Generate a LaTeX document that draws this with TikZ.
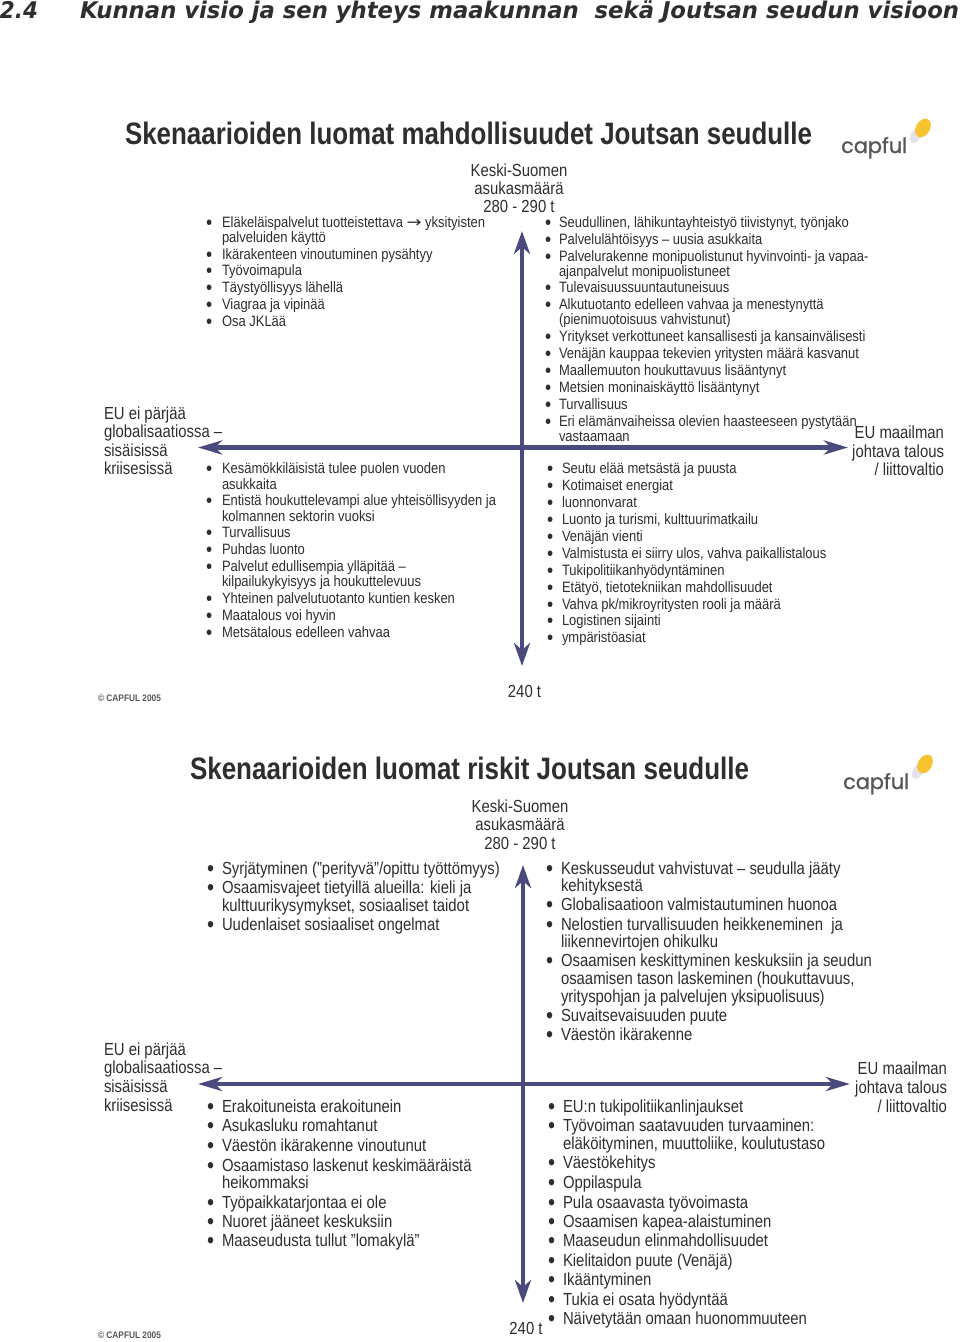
\documentclass[tikz,border=0pt]{standalone}
\usepackage{fontspec}
\usepackage{graphicx}
\usetikzlibrary{arrows.meta,shapes.geometric}
\setmainfont{Liberation Sans}
\newfontfamily\nara[FakeStretch=0.865]{Liberation Sans}
\newfontfamily\narb[FakeStretch=0.85]{Liberation Sans}
\newfontfamily\narc[FakeStretch=0.82]{Liberation Sans}
\newfontfamily\hdfont{DejaVu Sans}
\newfontfamily\logofont[FakeBold=0.9]{Poppins}
\definecolor{axisc}{HTML}{4A4A7E}
\definecolor{txt}{HTML}{2E2E2E}
\definecolor{logoc}{HTML}{55565A}
\definecolor{sunc}{HTML}{F5C430}
\definecolor{shade}{HTML}{E4E2EC}
\tikzset{
  line/.style={anchor=base west,inner sep=0pt,outer sep=0pt,text=txt},
  rline/.style={anchor=base east,inner sep=0pt,outer sep=0pt,text=txt},
  cline/.style={anchor=base,inner sep=0pt,outer sep=0pt,text=txt},
  small/.style={font=\nara\fontsize{15}{15}\selectfont},
  med/.style={font=\narb\fontsize{17.5}{18}\selectfont},
  axisv/.style={draw=axisc,line width=4.6pt,{Stealth[length=23pt,width=16pt,inset=7pt]}-{Stealth[length=23pt,width=16pt,inset=7pt]}},
  axish/.style={draw=axisc,line width=4.6pt,{Stealth[length=24pt,width=14pt,inset=7pt]}-{Stealth[length=24pt,width=14pt,inset=7pt]}},
}
\newcounter{ln}
\newcommand{\TL}[4]{\stepcounter{ln}\node[#1] (t\theln) at (#2,#3) {#4};}
\newcommand{\BL}[5]{\stepcounter{ln}\node[line,#1] (b\theln) at ({#2+1},#4) {\raisebox{-0.16em}{\scalebox{1.35}{•}}};\node[line,#1] (t\theln) at (#3,#4) {#5};}
\newcommand{\Logo}[2]{%
  \stepcounter{ln}%
  \begin{scope}[shift={(#1,#2)}]
    \node[fill=shade,draw=none,ellipse,rotate=60,minimum width=17pt,minimum height=10pt,inner sep=0pt] (s\theln) at (-5,-13) {};
    \node[fill=sunc,draw=none,ellipse,rotate=60,minimum width=20pt,minimum height=14pt,inner sep=0pt] (y\theln) at (2,-20) {};
    \node[anchor=base west,inner sep=0pt,text=logoc,font=\logofont\fontsize{21}{24}\selectfont] (l\theln) at (-80,5) {\resizebox{66pt}{\height}{capful}};
  \end{scope}}
\begin{document}
\begin{tikzpicture}[x=1pt,y=-1pt]
\useasboundingbox[fill=white] (0,0) rectangle (960,1342);
% heading
\node[line,font=\hdfont\fontsize{23}{24}\selectfont\bfseries\itshape] (h1) at (0,18) {\resizebox{38pt}{\height}{2.4}};
\node[line,font=\hdfont\fontsize{23}{24}\selectfont\bfseries\itshape] (h2) at (80,18) {\resizebox{879pt}{\height}{Kunnan visio ja sen yhteys maakunnan\ \ sekä Joutsan seudun visioon}};
% ============= first chart
\node[line,font=\narc\fontsize{31}{32}\selectfont\bfseries] (title1) at (125,144) {\resizebox{687pt}{\height}{Skenaarioiden luomat mahdollisuudet Joutsan seudulle}};
\Logo{921}{148}
\coordinate (vtop1) at (522,231);\coordinate (vbot1) at (522,666);
\coordinate (hl1) at (198,447.5);\coordinate (hr1) at (848,447.5);
\draw[axisv] (vtop1) -- (vbot1);
\draw[axish] (hl1) -- (hr1);
\TL{cline,med}{519}{176}{Keski-Suomen}
\TL{cline,med}{519}{194}{asukasmäärä}
\TL{cline,med}{519}{212}{280 - 290 t}
\TL{cline,med}{524.5}{697}{240 t}
\TL{line,med}{104}{419}{EU ei pärjää}
\TL{line,med}{104}{437}{globalisaatiossa –}
\TL{line,med}{104}{456}{sisäisissä}
\TL{line,med}{104}{474}{kriisesissä}
\TL{rline,med}{944}{438}{EU maailman}
\TL{rline,med}{944}{457}{johtava talous}
\TL{rline,med}{944}{475}{/ liittovaltio}
\BL{small}{205}{222}{227}{Eläkeläispalvelut tuotteistettava \resizebox{15pt}{8pt}{\hdfont →} yksityisten}
\TL{line,small}{222}{242}{palveluiden käyttö}
\BL{small}{205}{222}{259}{Ikärakenteen vinoutuminen pysähtyy}
\BL{small}{205}{222}{275}{Työvoimapula}
\BL{small}{205}{222}{292}{Täystyöllisyys lähellä}
\BL{small}{205}{222}{309}{Viagraa ja vipinää}
\BL{small}{205}{222}{326}{Osa JKLää}
\BL{small}{205}{222}{473}{Kesämökkiläisistä tulee puolen vuoden}
\TL{line,small}{222}{489}{asukkaita}
\BL{small}{205}{222}{505}{Entistä houkuttelevampi alue yhteisöllisyyden ja}
\TL{line,small}{222}{521}{kolmannen sektorin vuoksi}
\BL{small}{205}{222}{537}{Turvallisuus}
\BL{small}{205}{222}{554}{Puhdas luonto}
\BL{small}{205}{222}{571}{Palvelut edullisempia ylläpitää –}
\TL{line,small}{222}{586}{kilpailukykyisyys ja houkuttelevuus}
\BL{small}{205}{222}{603}{Yhteinen palvelutuotanto kuntien kesken}
\BL{small}{205}{222}{620}{Maatalous voi hyvin}
\BL{small}{205}{222}{637}{Metsätalous edelleen vahvaa}
\BL{small}{544}{559}{227}{Seudullinen, lähikuntayhteistyö tiivistynyt, työnjako}
\BL{small}{544}{559}{244}{Palvelulähtöisyys – uusia asukkaita}
\BL{small}{544}{559}{261}{Palvelurakenne monipuolistunut hyvinvointi- ja vapaa-}
\TL{line,small}{559}{276}{ajanpalvelut monipuolistuneet}
\BL{small}{544}{559}{292}{Tulevaisuussuuntautuneisuus}
\BL{small}{544}{559}{309}{Alkutuotanto edelleen vahvaa ja menestynyttä}
\TL{line,small}{559}{324}{(pienimuotoisuus vahvistunut)}
\BL{small}{544}{559}{341}{Yritykset verkottuneet kansallisesti ja kansainvälisesti}
\BL{small}{544}{559}{358}{Venäjän kauppaa tekevien yritysten määrä kasvanut}
\BL{small}{544}{559}{375}{Maallemuuton houkuttavuus lisääntynyt}
\BL{small}{544}{559}{392}{Metsien moninaiskäyttö lisääntynyt}
\BL{small}{544}{559}{409}{Turvallisuus}
\BL{small}{544}{559}{426}{Eri elämänvaiheissa olevien haasteeseen pystytään}
\TL{line,small}{559}{441}{vastaamaan}
\BL{small}{546}{562}{473}{Seutu elää metsästä ja puusta}
\BL{small}{546}{562}{490}{Kotimaiset energiat}
\BL{small}{546}{562}{507}{luonnonvarat}
\BL{small}{546}{562}{524}{Luonto ja turismi, kulttuurimatkailu}
\BL{small}{546}{562}{541}{Venäjän vienti}
\BL{small}{546}{562}{558}{Valmistusta ei siirry ulos, vahva paikallistalous}
\BL{small}{546}{562}{575}{Tukipolitiikanhyödyntäminen}
\BL{small}{546}{562}{592}{Etätyö, tietotekniikan mahdollisuudet}
\BL{small}{546}{562}{609}{Vahva pk/mikroyritysten rooli ja määrä}
\BL{small}{546}{562}{625}{Logistinen sijainti}
\BL{small}{546}{562}{642}{ympäristöasiat}
\node[line,font=\fontsize{9.5}{10}\selectfont\bfseries,text=logoc] (c1) at (98,701) {\resizebox{63pt}{\height}{© CAPFUL 2005}};
% ============= second chart
\node[line,font=\narc\fontsize{31}{32}\selectfont\bfseries] (title2) at (190,779) {\resizebox{559pt}{\height}{Skenaarioiden luomat riskit Joutsan seudulle}};
\Logo{923}{784}
\coordinate (vtop2) at (523,865);\coordinate (vbot2) at (523,1303);
\coordinate (hl2) at (198,1084);\coordinate (hr2) at (850,1084);
\draw[axisv] (vtop2) -- (vbot2);
\draw[axish] (hl2) -- (hr2);
\TL{cline,med}{520}{812}{Keski-Suomen}
\TL{cline,med}{520}{830}{asukasmäärä}
\TL{cline,med}{520}{849}{280 - 290 t}
\TL{cline,med}{526}{1334}{240 t}
\TL{line,med}{104}{1055}{EU ei pärjää}
\TL{line,med}{104}{1073}{globalisaatiossa –}
\TL{line,med}{104}{1092}{sisäisissä}
\TL{line,med}{104}{1111}{kriisesissä}
\TL{rline,med}{947}{1074}{EU maailman}
\TL{rline,med}{947}{1093}{johtava talous}
\TL{rline,med}{947}{1112}{/ liittovaltio}
\BL{med}{206}{222}{874}{Syrjätyminen (”perityvä”/opittu työttömyys)}
\BL{med}{206}{222}{893}{Osaamisvajeet tietyillä alueilla: kieli ja}
\TL{line,med}{222}{911}{kulttuurikysymykset, sosiaaliset taidot}
\BL{med}{206}{222}{930}{Uudenlaiset sosiaaliset ongelmat}
\BL{med}{206}{222}{1112}{Erakoituneista erakoitunein}
\BL{med}{206}{222}{1131}{Asukasluku romahtanut}
\BL{med}{206}{222}{1151}{Väestön ikärakenne vinoutunut}
\BL{med}{206}{222}{1171}{Osaamistaso laskenut keskimääräistä}
\TL{line,med}{222}{1188}{heikommaksi}
\BL{med}{206}{222}{1208}{Työpaikkatarjontaa ei ole}
\BL{med}{206}{222}{1227}{Nuoret jääneet keskuksiin}
\BL{med}{206}{222}{1246}{Maaseudusta tullut ”lomakylä”}
\BL{med}{545}{561}{874}{Keskusseudut vahvistuvat – seudulla jääty}
\TL{line,med}{561}{891}{kehityksestä}
\BL{med}{545}{561}{910}{Globalisaatioon valmistautuminen huonoa}
\BL{med}{545}{561}{930}{Nelostien turvallisuuden heikkeneminen\ \ ja}
\TL{line,med}{561}{947}{liikennevirtojen ohikulku}
\BL{med}{545}{561}{966}{Osaamisen keskittyminen keskuksiin ja seudun}
\TL{line,med}{561}{984}{osaamisen tason laskeminen (houkuttavuus,}
\TL{line,med}{561}{1002}{yrityspohjan ja palvelujen yksipuolisuus)}
\BL{med}{545}{561}{1021}{Suvaitsevaisuuden puute}
\BL{med}{545}{561}{1040}{Väestön ikärakenne}
\BL{med}{547}{563}{1112}{EU:n tukipolitiikanlinjaukset}
\BL{med}{547}{563}{1131}{Työvoiman saatavuuden turvaaminen:}
\TL{line,med}{563}{1149}{eläköityminen, muuttoliike, koulutustaso}
\BL{med}{547}{563}{1168}{Väestökehitys}
\BL{med}{547}{563}{1188}{Oppilaspula}
\BL{med}{547}{563}{1208}{Pula osaavasta työvoimasta}
\BL{med}{547}{563}{1227}{Osaamisen kapea-alaistuminen}
\BL{med}{547}{563}{1246}{Maaseudun elinmahdollisuudet}
\BL{med}{547}{563}{1266}{Kielitaidon puute (Venäjä)}
\BL{med}{547}{563}{1285}{Ikääntyminen}
\BL{med}{547}{563}{1305}{Tukia ei osata hyödyntää}
\BL{med}{547}{563}{1324}{Näivetytään omaan huonommuuteen}
\node[line,font=\fontsize{9.5}{10}\selectfont\bfseries,text=logoc] (c2) at (98,1338) {\resizebox{63pt}{\height}{© CAPFUL 2005}};
\end{tikzpicture}
\end{document}
